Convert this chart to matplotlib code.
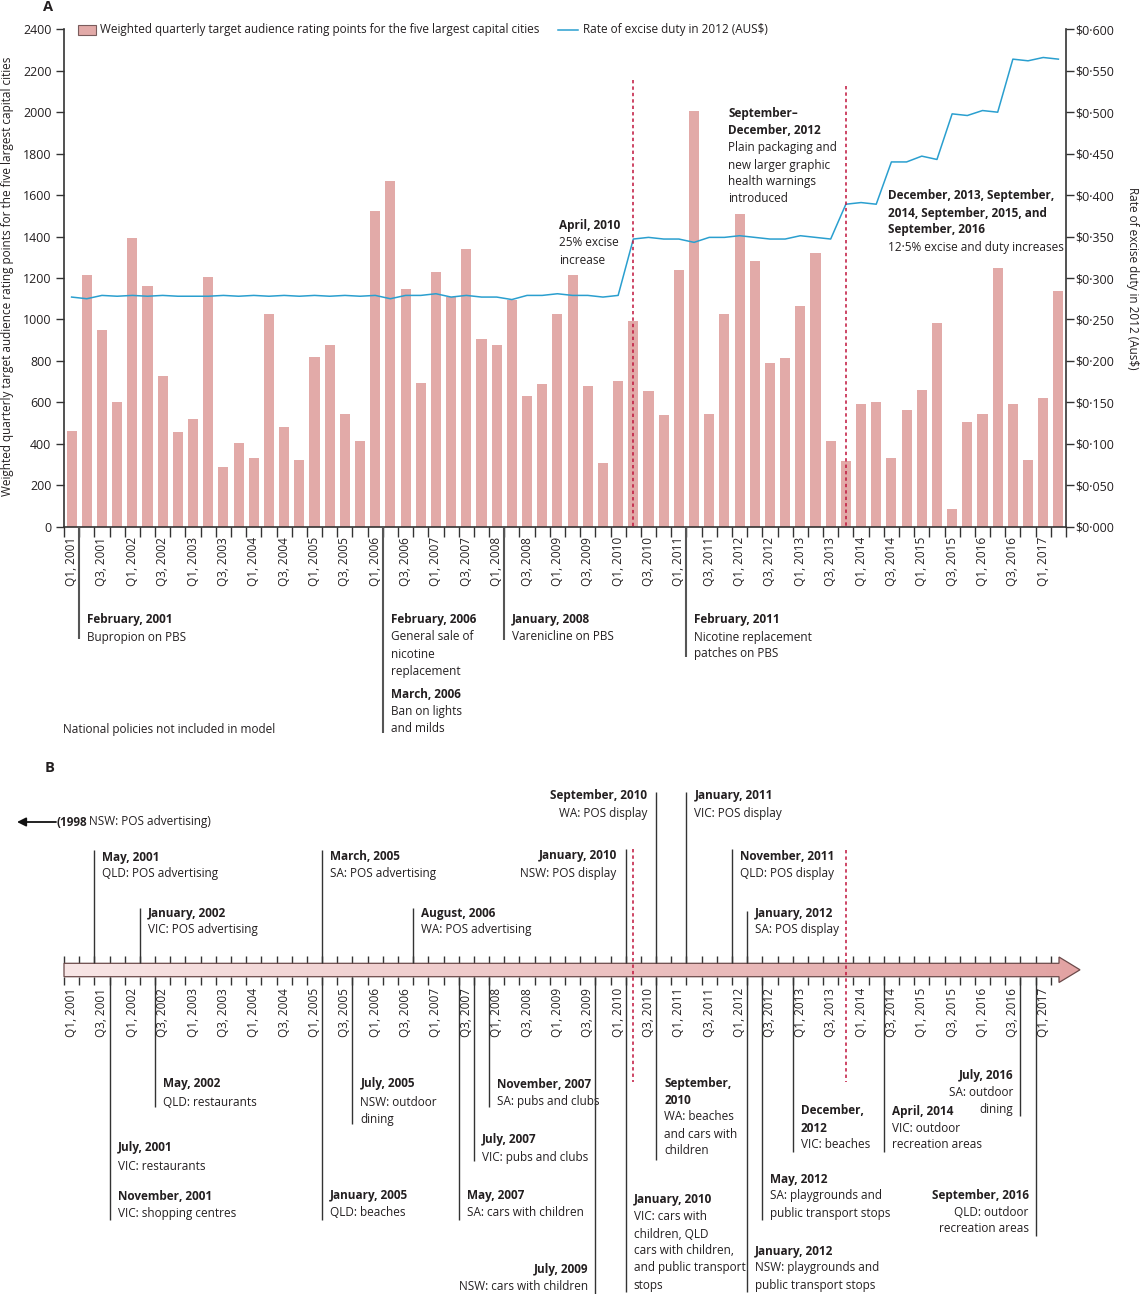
import numpy as np
import matplotlib
matplotlib.use("Agg")
import matplotlib.pyplot as plt
from matplotlib import font_manager as fm
from matplotlib.patches import Rectangle, Polygon
from matplotlib.lines import Line2D
from matplotlib.colors import LinearSegmentedColormap

# ---------------- data ----------------
years = list(range(2001, 2018))
quarters = [f"Q{q}, {y}" for y in years for q in (1, 2, 3, 4)][:66]

tarp = [464, 1214, 950, 603, 1395, 1163, 727, 456, 522, 1206,
        290, 406, 332, 1024, 481, 324, 819, 876, 546, 414,
        1521, 1668, 1148, 695, 1231, 1110, 1339, 908, 876, 1096,
        629, 687, 1024, 1214, 677, 308, 703, 992, 653, 539,
        1239, 2008, 546, 1024, 1511, 1281, 792, 816, 1064, 1321,
        414, 315, 594, 603, 331, 562, 661, 981, 86, 504,
        544, 1247, 594, 323, 619, 1136]

excise = [0.277, 0.275, 0.279, 0.278, 0.279, 0.278, 0.279, 0.278, 0.278, 0.278,
          0.279, 0.278, 0.279, 0.278, 0.279, 0.278, 0.279, 0.278, 0.279, 0.278,
          0.279, 0.275, 0.279, 0.279, 0.281, 0.277, 0.279, 0.277, 0.277, 0.274,
          0.279, 0.279, 0.281, 0.279, 0.279, 0.277, 0.279, 0.347, 0.349, 0.347,
          0.347, 0.343, 0.349, 0.349, 0.351, 0.349, 0.347, 0.347, 0.351, 0.349,
          0.347, 0.389, 0.391, 0.389, 0.440, 0.440, 0.447, 0.443, 0.498, 0.496,
          0.502, 0.500, 0.564, 0.562, 0.566, 0.564]

left_ticks = list(range(0, 2401, 200))
right_ticks = [round(0.05 * i, 3) for i in range(13)]

# ---------------- fonts ----------------
def pick_font():
    for name, size in [("Liberation Sans Narrow", 9.8), ("DejaVu Sans Condensed", 8.5),
                       ("Open Sans", 8.5), ("Noto Sans", 8.5)]:
        try:
            fm.findfont(fm.FontProperties(family=name), fallback_to_default=False)
            return name, size
        except Exception:
            pass
    return "DejaVu Sans", 8.2

FONT, FS = pick_font()
TFS = FS + 0.4
plt.rcParams["font.family"] = [FONT, "DejaVu Sans"]

TXT = "#231f20"
AXC = "#333333"
BAR = "#e2aaa8"
LINE = "#2a9fcf"
RED = "#c0143c"

W, H = 1140, 1294
fig = plt.figure(figsize=(W / 100, H / 100), dpi=100)

L, R = 64, 1066
TOP_A, BOT_A = 29.3, 526.7
N = len(tarp)
x = np.arange(N)

# ---------------- panel A ----------------
ax = fig.add_axes([L / W, 1 - BOT_A / H, (R - L) / W, (BOT_A - TOP_A) / H])
ax.bar(x, tarp, width=0.66, color=BAR, zorder=2)
ax.set_xlim(-0.5, N - 0.5)
ax.set_ylim(0, 2400)
ax.set_yticks(left_ticks)
ax.set_yticklabels([str(v) for v in left_ticks])
ax.tick_params(axis="y", length=6, width=1, color=AXC, labelsize=TFS, labelcolor=TXT, pad=3)
ax.set_xticks(np.arange(-0.5, N, 1))
ax.set_xticklabels([])
ax.set_xticks(x[::2], minor=True)
ax.set_xticklabels(quarters[::2], minor=True, rotation=90, fontsize=FS, color=TXT)
ax.tick_params(axis="x", which="major", length=7, width=1, color=AXC)
ax.tick_params(axis="x", which="minor", length=0, pad=7.5)
ax.spines["top"].set_visible(False)
ax.spines["right"].set_visible(False)
for s in ("left", "bottom"):
    ax.spines[s].set_color(AXC)
    ax.spines[s].set_linewidth(1.2)

ax2 = ax.twinx()
ax2.plot(x, excise, color=LINE, lw=1.1, zorder=3)
ax2.set_ylim(0, 0.6)
ax2.set_yticks(right_ticks)
ax2.set_yticklabels([f"${v:.3f}".replace(".", "\u00b7") for v in right_ticks])
ax2.tick_params(axis="y", length=6, width=1, color=AXC, labelsize=TFS, labelcolor=TXT, pad=1)
for s in ("top", "left", "bottom"):
    ax2.spines[s].set_visible(False)
ax2.spines["right"].set_color(AXC)
ax2.spines["right"].set_linewidth(1.2)

fig.text(8 / W, 1 - 276 / H,
         "Weighted quarterly target audience rating points for the five largest capital cities",
         rotation=90, ha="center", va="center", fontsize=FS, color=TXT)
fig.text(1132 / W, 1 - 278 / H, "Rate of excise duty in 2012 (Aus$)",
         rotation=270, ha="center", va="center", fontsize=FS, color=TXT)

# legend (drawn by hand to match placement)
fig.add_artist(Rectangle((78 / W, 1 - 34.5 / H), 18 / W, 10 / H, transform=fig.transFigure,
                         facecolor=BAR, edgecolor="#7a5c5c", lw=0.8))
fig.text(100 / W, 1 - 29.5 / H,
         "Weighted quarterly target audience rating points for the five largest capital cities",
         ha="left", va="center", fontsize=FS, color=TXT)
fig.add_artist(Line2D([558 / W, 578 / W], [1 - 29.5 / H, 1 - 29.5 / H], transform=fig.transFigure,
                      color=LINE, lw=1.1))
fig.text(583 / W, 1 - 29.5 / H, "Rate of excise duty in 2012 (AUS$)",
         ha="left", va="center", fontsize=FS, color=TXT)

fig.text(43 / W, 1 - 7 / H, "A", ha="left", va="center", fontsize=FS + 2, fontweight="bold", color=TXT)
fig.text(45 / W, 1 - 768 / H, "B", ha="left", va="center", fontsize=FS + 2, fontweight="bold", color=TXT)

# ---------------- overlay axes in pixel rows ----------------
xl = -0.5 - L * N / (R - L)
xr = (N - 0.5) + (W - R) * N / (R - L)
axB = fig.add_axes([0, 0, 1, 1])
axB.set_xlim(xl, xr)
axB.set_ylim(H, 0)
axB.axis("off")
PX = (R - L) / N  # pixels per quarter


def X(px):
    return xl + px * (xr - xl) / W


def block(xd, lines, ha="left"):
    for yy, t, b in lines:
        axB.text(xd, yy, t, ha=ha, va="center", fontsize=FS, color=TXT,
                 fontweight="bold" if b else "normal")


# annotations inside panel A
block(X(559), [(226, "April, 2010", 1), (243, "25% excise", 0), (260, "increase", 0)])
block(X(728), [(113, "September\u2013", 1), (130, "December, 2012", 1),
               (147, "Plain packaging and", 0), (165, "new larger graphic", 0),
               (182, "health warnings", 0), (199, "introduced", 0)])
block(X(888), [(196, "December, 2013, September,", 1), (213, "2014, September, 2015, and", 1),
               (230, "September, 2016", 1), (248, "12\u00b75% excise and duty increases", 0)])

# dashed policy lines
for xd, y0, y1 in [(37, 80, BOT_A), (51, 86, BOT_A), (37, 849, 1082), (51, 850, 1082)]:
    axB.plot([xd, xd], [y0, y1], color=RED, lw=1.1, ls=(0, (2.2, 2.0)), zorder=6)

# national policies below panel A
eventsA = [
    (1, 639, [(620, "February, 2001", 1), (637, "Bupropion on PBS", 0)]),
    (21, 733, [(620, "February, 2006", 1), (637, "General sale of", 0), (655, "nicotine", 0),
               (672, "replacement", 0), (694, "March, 2006", 1), (712, "Ban on lights", 0),
               (729, "and milds", 0)]),
    (29, 640, [(620, "January, 2008", 1), (637, "Varenicline on PBS", 0)]),
    (41, 657, [(620, "February, 2011", 1), (637, "Nicotine replacement", 0), (654, "patches on PBS", 0)]),
]
for b, ybot, lines in eventsA:
    xd = b - 0.5
    axB.plot([xd, xd], [BOT_A, ybot], color="#555555", lw=1.5, solid_capstyle="butt")
    block(xd + 8 / PX, lines)
axB.text(X(63), 730, "National policies not included in model", ha="left", va="center",
         fontsize=FS, color=TXT)

# ---------------- panel B timeline ----------------
BT, BB = 963.3, 976.7
xb0, xb1, xtip = -0.5, X(1059), X(1080)
poly = Polygon([(xb0, BT), (xb1, BT), (xb1, 957), (xtip, 969.8), (xb1, 982.5), (xb1, BB), (xb0, BB)],
               closed=True, facecolor="none", edgecolor="#6b4a4a", lw=0.9, zorder=3)
axB.add_patch(poly)
cmap = LinearSegmentedColormap.from_list("band", ["#f8e6e6", "#e2a3a3"])
im = axB.imshow(np.linspace(0, 1, 256).reshape(1, -1), cmap=cmap, extent=(xb0, xtip, 982.5, 957),
                aspect="auto", zorder=2, interpolation="bilinear")
im.set_clip_path(poly)
axB.set_xlim(xl, xr)
axB.set_ylim(H, 0)

bx = np.arange(0, N) - 0.5
axB.vlines(bx, 955.5, BT, color=AXC, lw=1)
axB.vlines(bx, BB, 984.5, color=AXC, lw=1)
for i in range(0, N, 2):
    axB.text(i, 988, quarters[i], rotation=90, ha="center", va="top", fontsize=FS, color=TXT)

# arrow for 1998
axB.annotate("", xy=(X(17), 822), xytext=(X(56), 822),
             arrowprops=dict(arrowstyle="-|>", mutation_scale=13, lw=1.3, color="#111111",
                             shrinkA=0, shrinkB=0))
fig.canvas.draw()
rend = fig.canvas.get_renderer()
t1 = axB.text(X(57), 822, "(1998", ha="left", va="center", fontsize=FS, fontweight="bold", color=TXT)
bb = t1.get_window_extent(rend)
axB.text(X(bb.x1 + 1), 822, "NSW: POS advertising)", ha="left", va="center", fontsize=FS, color=TXT)

# events above the band: (boundary, top y, side, lines)
above = [
    (2, 850, "r", [(857, "May, 2001", 1), (874, "QLD: POS advertising", 0)]),
    (5, 908, "r", [(913, "January, 2002", 1), (930, "VIC: POS advertising", 0)]),
    (17, 850, "r", [(857, "March, 2005", 1), (874, "SA: POS advertising", 0)]),
    (23, 908, "r", [(913, "August, 2006", 1), (930, "WA: POS advertising", 0)]),
    (37, 849, "l", [(856, "January, 2010", 1), (873, "NSW: POS display", 0)]),
    (39, 792, "l", [(796, "September, 2010", 1), (813, "WA: POS display", 0)]),
    (41, 792, "r", [(796, "January, 2011", 1), (813, "VIC: POS display", 0)]),
    (44, 849, "r", [(856, "November, 2011", 1), (873, "QLD: POS display", 0)]),
    (45, 911, "r", [(913, "January, 2012", 1), (930, "SA: POS display", 0)]),
]
below = [
    (3, 1220, "r", [(1148, "July, 2001", 1), (1166, "VIC: restaurants", 0),
                    (1196, "November, 2001", 1), (1213, "VIC: shopping centres", 0)]),
    (6, 1107, "r", [(1084, "May, 2002", 1), (1102, "QLD: restaurants", 0)]),
    (17, 1220, "r", [(1196, "January, 2005", 1), (1213, "QLD: beaches", 0)]),
    (19, 1124, "r", [(1084, "July, 2005", 1), (1102, "NSW: outdoor", 0), (1119, "dining", 0)]),
    (26, 1220, "r", [(1196, "May, 2007", 1), (1213, "SA: cars with children", 0)]),
    (27, 1161, "r", [(1140, "July, 2007", 1), (1157, "VIC: pubs and clubs", 0)]),
    (28, 1107, "r", [(1084, "November, 2007", 1), (1102, "SA: pubs and clubs", 0)]),
    (35, 1294, "l", [(1269, "July, 2009", 1), (1286, "NSW: cars with children", 0)]),
    (37, 1292, "r", [(1200, "January, 2010", 1), (1217, "VIC: cars with", 0), (1234, "children, QLD", 0),
                     (1251, "cars with children,", 0), (1268, "and public transport", 0), (1285, "stops", 0)]),
    (39, 1160, "r", [(1083, "September,", 1), (1100, "2010", 1), (1117, "WA: beaches", 0),
                     (1134, "and cars with", 0), (1151, "children", 0)]),
    (45, 1292, "r", [(1251, "January, 2012", 1), (1268, "NSW: playgrounds and", 0),
                     (1285, "public transport stops", 0)]),
    (46, 1220, "r", [(1179, "May, 2012", 1), (1196, "SA: playgrounds and", 0),
                     (1213, "public transport stops", 0)]),
    (48, 1152, "r", [(1111, "December,", 1), (1128, "2012", 1), (1145, "VIC: beaches", 0)]),
    (54, 1152, "r", [(1111, "April, 2014", 1), (1128, "VIC: outdoor", 0), (1145, "recreation areas", 0)]),
    (63, 1116, "l", [(1076, "July, 2016", 1), (1093, "SA: outdoor", 0), (1110, "dining", 0)]),
    (64, 1236, "l", [(1195, "September, 2016", 1), (1212, "QLD: outdoor", 0), (1229, "recreation areas", 0)]),
]
for b, ytop, side, lines in above:
    xd = b - 0.5
    axB.plot([xd, xd], [ytop, BT], color=AXC, lw=1.0, solid_capstyle="butt", zorder=4)
    if side == "r":
        block(xd + 8 / PX, lines)
    else:
        block(xd - 9 / PX, lines, ha="right")
for b, ybot, side, lines in below:
    xd = b - 0.5
    axB.plot([xd, xd], [BB, ybot], color=AXC, lw=1.0, solid_capstyle="butt", zorder=4)
    if side == "r":
        block(xd + 8 / PX, lines)
    else:
        block(xd - 7 / PX, lines, ha="right")

fig.savefig("out.png", dpi=100)
